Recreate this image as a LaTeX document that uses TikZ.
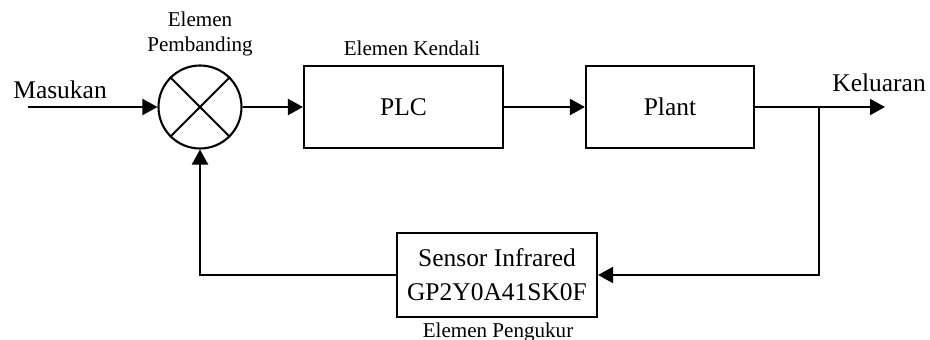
\documentclass[tikz,border=0pt]{standalone}
\usepackage{fontspec}
\setmainfont{Liberation Serif}
\usetikzlibrary{arrows.meta,positioning}

\tikzset{
  blok/.style={draw, line width=1.2pt, minimum width=#1, minimum height=1.64cm, inner sep=0pt},
  sinyal/.style={line width=1.2pt, -{Triangle[length=0.3cm, width=0.32cm]}},
  teks/.style={font=\fontsize{14.5}{17}\selectfont, inner sep=0pt},
  keterangan/.style={font=\fontsize{12}{14.2}\selectfont, inner sep=0pt, align=center}
}

\begin{document}
\begin{tikzpicture}
    \useasboundingbox (0,0) rectangle (18.6,6.78);
    % titik bantu
    \coordinate (in) at (0.56,4.64);
    \coordinate (branch) at (16.38,4.64);
    \coordinate (out) at (17.7,4.64);
    % elemen pembanding
    \node[circle, draw, line width=1.2pt, minimum size=1.66cm, inner sep=0pt] (cmp) at (4.0,4.64) {};
    \draw[line width=1.2pt] (cmp.north west)--(cmp.south east);
    \draw[line width=1.2pt] (cmp.north east)--(cmp.south west);
    % blok-blok
    \node[blok=3.98cm, teks] (plc) at (8.07,4.64) {PLC};
    \node[blok=3.36cm, teks] (plant) at (13.4,4.64) {Plant};
    \node[blok=4.0cm, minimum height=1.68cm, teks, align=center] (sensor) at (9.94,1.28) {Sensor Infrared\\[2.3pt]GP2Y0A41SK0F};
    % sambungan
    \draw[sinyal] (in)--(cmp.west);
    \draw[sinyal] (cmp.east)--(plc.west);
    \draw[sinyal] (plc.east)--(plant.west);
    \draw[sinyal] (plant.east)--(out);
    \draw[sinyal] (branch) |- (sensor.east);
    \draw[sinyal] (sensor.west) -| (cmp.south);
    % label
    \node[teks, anchor=base west] (masukan) at (0.26,4.8) {Masukan};
    \node[teks, anchor=base west] (keluaran) at (16.64,4.94) {Keluaran};
    \node[keterangan] (lbcmp) at (4.0,6.1) {Elemen\\Pembanding};
    \node[keterangan, anchor=base] (lbplc) at (8.24,5.66) {Elemen Kendali};
    \node[keterangan, anchor=base] (lbsensor) at (9.96,0.04) {Elemen Pengukur};
\end{tikzpicture}
\end{document}
